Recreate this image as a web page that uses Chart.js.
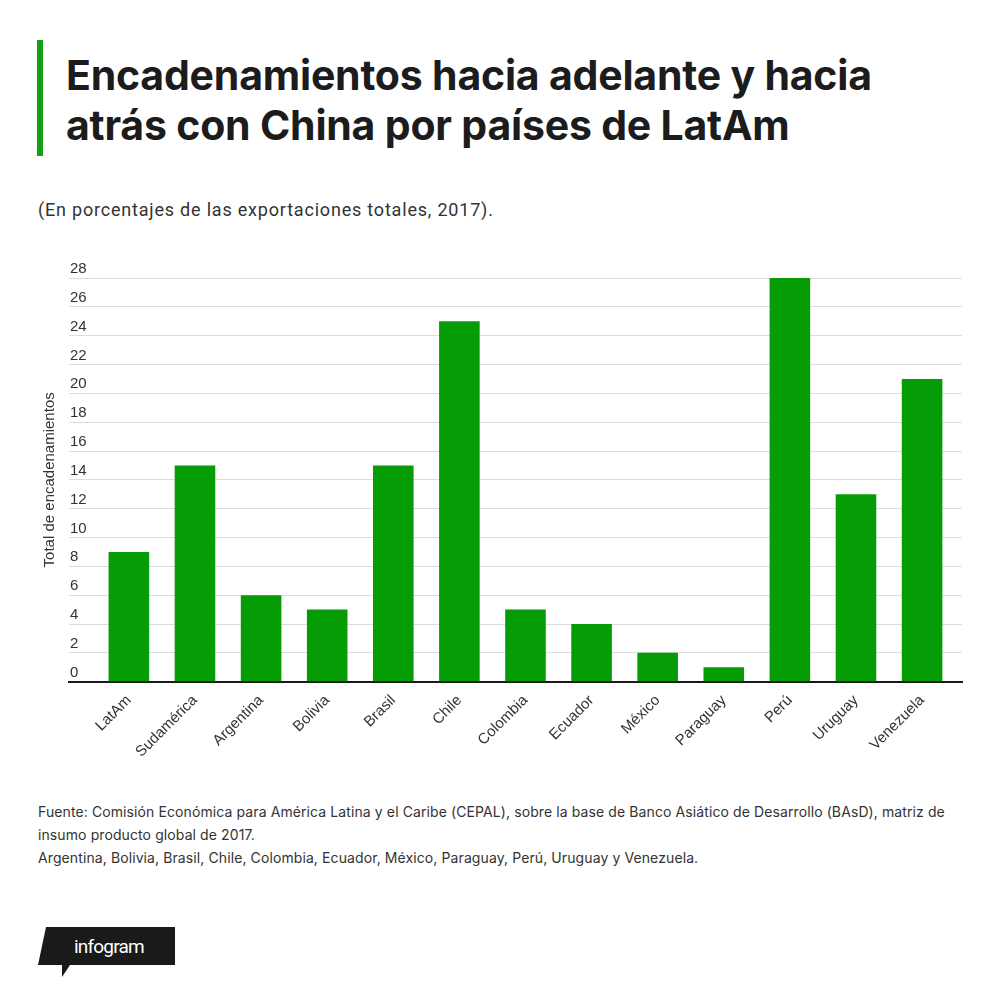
<!DOCTYPE html>
<html>
<head>
<meta charset="utf-8">
<script src="https://cdn.jsdelivr.net/npm/chart.js@4"></script>
<style>
  body { margin: 0; width: 1000px; height: 996px; background: #fff; position: relative; overflow: hidden; font-family: Roboto, "Liberation Sans", sans-serif; color: #222; }
  .bar { position: absolute; left: 37px; top: 40px; width: 6px; height: 116px; background: #14a014; }
  h1 { position: absolute; left: 66px; top: 50px; margin: 0; font-family: Inter, Roboto, sans-serif; font-size: 41px; line-height: 50px; font-weight: 700; letter-spacing: -0.2px; color: #1c1c1c; }
  .sub { position: absolute; left: 38px; top: 199px; font-size: 18px; letter-spacing: 0.8px; color: #333; }
  #wrap { position: absolute; left: 0; top: 240px; width: 1000px; height: 540px; }
  .foot { position: absolute; left: 38px; top: 800px; font-family: Inter, Roboto, sans-serif; font-size: 14px; line-height: 23px; letter-spacing: 0.1px; color: #333; }
  .logo { position: absolute; left: 36px; top: 925px; }
</style>
</head>
<body>
<div class="bar"></div>
<h1>Encadenamientos hacia adelante y hacia<br>atrás con China por países de LatAm</h1>
<div class="sub">(En porcentajes de las exportaciones totales, 2017).</div>
<div id="wrap"><canvas id="chart"></canvas></div>
<div class="foot">Fuente: Comisión Económica para América Latina y el Caribe (CEPAL), sobre la base de Banco Asiático de Desarrollo (BAsD), matriz de<br>insumo producto global de 2017.<br>Argentina, Bolivia, Brasil, Chile, Colombia, Ecuador, México, Paraguay, Perú, Uruguay y Venezuela.</div>
<svg class="logo" width="145" height="55" viewBox="0 0 145 55">
  <polygon points="10,2 139,2 139,40 34,40 26,52 26,40 2,40" fill="#1a1a1a"/>
  <text x="38" y="28" fill="#fff" font-family="Roboto, sans-serif" font-size="19" letter-spacing="-0.8">infogram</text>
</svg>
<script>
const countries = ['LatAm', 'Sudamérica', 'Argentina', 'Bolivia', 'Brasil', 'Chile', 'Colombia', 'Ecuador', 'México', 'Paraguay', 'Perú', 'Uruguay', 'Venezuela'];
const totals = [9, 15, 6, 5, 15, 25, 5, 4, 2, 1, 28, 13, 21];
const yTicks = [0, 2, 4, 6, 8, 10, 12, 14, 16, 18, 20, 22, 24, 26, 28];

const ctx = document.getElementById('chart').getContext('2d');
const points = countries.map((c, i) => ({ x: i, y: totals[i] }));

new Chart(ctx, {
  type: 'bar',
  data: {
    datasets: [{
      label: 'Total de encadenamientos',
      data: points,
      backgroundColor: '#069c06',
      borderWidth: 0,
      categoryPercentage: 1,
      barPercentage: 0.614,
    }]
  },
  options: {
    responsive: true,
    maintainAspectRatio: false,
    animation: false,
    layout: { padding: { left: 0, right: 38, top: 38, bottom: 17 } },
    plugins: { legend: { display: false }, tooltip: { enabled: false } },
    scales: {
      x: { // linear so the bars sit inset from the gridline ends
        type: 'linear',
        offset: false,
        min: -0.906,
        max: 12.604,
        z: 1,
        afterBuildTicks: (axis) => { axis.ticks = countries.map((c, i) => ({ value: i })); },
        grid: { display: false },
        border: { display: true, color: '#1a1a1a', width: 2 },
        ticks: {
          autoSkip: false,
          maxRotation: 45,
          minRotation: 45,
          color: '#333',
          padding: 2,
          font: { family: 'Liberation Sans', size: 15 },
          callback: (v) => countries[v]
        }
      },
      y: {
        min: 0,
        max: 28,
        afterBuildTicks: (axis) => { axis.ticks = yTicks.map(v => ({ value: v })); },
        grid: { color: '#dcdcdc', lineWidth: 1, drawTicks: false },
        border: { display: false },
        title: {
          display: true,
          text: 'Total de encadenamientos',
          color: '#333',
          font: { family: 'Liberation Sans', size: 15 },
          padding: { top: 41, bottom: 8 }
        },
        ticks: {
          mirror: true,
          padding: 1,
          labelOffset: -9,
          color: '#333',
          font: { family: 'Liberation Sans', size: 15 }
        }
      }
    }
  }
});
</script>
</body>
</html>
